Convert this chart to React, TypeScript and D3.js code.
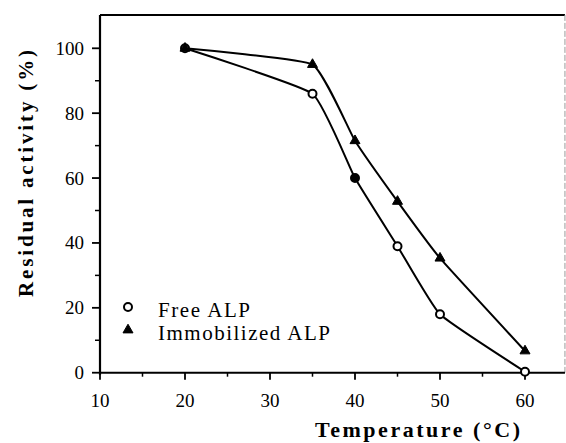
import React from "react";
import * as d3 from "d3";

const temperatures = [20, 35, 40, 45, 50, 60];
const freeALP = [100, 86, 60, 39, 18, 0.3];
const immobilizedALP = [100, 95, 71.5, 52.8, 35.3, 6.7];
const xTicks = [10, 20, 30, 40, 50, 60];
const xMinorTicks = [15, 25, 35, 45, 55];
const yTicks = [0, 20, 40, 60, 80, 100];
const yMinorTicks = [10, 30, 50, 70, 90];
const seriesNames = ["Free ALP", "Immobilized ALP"];

const W = 566;
const H = 443;

export default function App() {
  const x = d3.scaleLinear().domain([10, 60]).range([100, 525]);
  const y = d3.scaleLinear().domain([0, 100]).range([372.7, 48.3]);
  const xMax = 64.7;
  const yMax = 110.3;

  const line = d3
    .line<[number, number]>()
    .x((d) => x(d[0]))
    .y((d) => y(d[1]))
    .curve(d3.curveCardinal.tension(0.62));

  const freePts: [number, number][] = temperatures.map((t, i) => [t, freeALP[i]]);
  const immPts: [number, number][] = temperatures.map((t, i) => [t, immobilizedALP[i]]);

  const tri = (cx: number, cy: number, s: number) => {
    const h = (s * Math.sqrt(3)) / 2;
    return `M${cx},${cy - (2 * h) / 3}L${cx + s / 2},${cy + h / 3}L${cx - s / 2},${cy + h / 3}Z`;
  };

  const ff = "Liberation Serif";

  return (
    <svg width={W} height={H} style={{ position: "absolute", left: 0, top: 0, background: "#fff" }}>
      <rect x={0} y={0} width={W} height={H} fill="#fff" />
      <line x1={x(10)} x2={x(xMax)} y1={y(yMax)} y2={y(yMax)} stroke="#000" strokeWidth={2} />
      <line x1={x(xMax)} x2={x(xMax)} y1={y(yMax)} y2={y(0)} stroke="#999" strokeWidth={1} strokeDasharray="6,2" />
      <line x1={x(10)} x2={x(10)} y1={y(yMax)} y2={y(0) + 2} stroke="#000" strokeWidth={2.2} />
      <line x1={x(10) - 1} x2={x(xMax)} y1={y(0)} y2={y(0)} stroke="#000" strokeWidth={2} />
      {xTicks.map((t) => (
        <g key={"xt" + t}>
          <line x1={x(t)} x2={x(t)} y1={y(0)} y2={y(0) + 7} stroke="#000" strokeWidth={1.8} />
          <text x={x(t)} y={407} textAnchor="middle" fontFamily={ff} fontSize={19}>
            {t}
          </text>
        </g>
      ))}
      {xMinorTicks.map((t) => (
        <line key={"xm" + t} x1={x(t)} x2={x(t)} y1={y(0)} y2={y(0) + 4} stroke="#000" strokeWidth={1.5} />
      ))}
      {yTicks.map((t) => (
        <g key={"yt" + t}>
          <line x1={x(10) - 8} x2={x(10)} y1={y(t)} y2={y(t)} stroke="#000" strokeWidth={1.8} />
          <text x={84} y={y(t) + 6.5} textAnchor="end" fontFamily={ff} fontSize={19}>
            {t}
          </text>
        </g>
      ))}
      {yMinorTicks.map((t) => (
        <line key={"ym" + t} x1={x(10) - 5} x2={x(10)} y1={y(t)} y2={y(t)} stroke="#000" strokeWidth={1.5} />
      ))}
      <path d={line(freePts) ?? ""} fill="none" stroke="#000" strokeWidth={2} />
      <path d={line(immPts) ?? ""} fill="none" stroke="#000" strokeWidth={2} />
      {freePts.map((p, i) => (
        <circle
          key={"fc" + i}
          cx={x(p[0])}
          cy={y(p[1])}
          r={4}
          fill={p[0] === 40 ? "#000" : "#fff"}
          stroke="#000"
          strokeWidth={2}
        />
      ))}
      {immPts.map((p, i) => (
        <path key={"it" + i} d={tri(x(p[0]), y(p[1]), 10)} fill="#000" stroke="#000" strokeWidth={1} />
      ))}
      <circle cx={128} cy={307} r={4} fill="#fff" stroke="#000" strokeWidth={2} />
      <text x={158} y={317} fontFamily={ff} fontSize={21} textLength={92} lengthAdjust="spacing">
        {seriesNames[0]}
      </text>
      <path d={tri(128, 330, 10)} fill="#000" stroke="#000" strokeWidth={1} />
      <text x={158} y={340} fontFamily={ff} fontSize={21} textLength={172} lengthAdjust="spacing">
        {seriesNames[1]}
      </text>
      <text
        x={417.5}
        y={437}
        textAnchor="middle"
        fontFamily={ff}
        fontWeight="bold"
        fontSize={22}
        textLength={205}
        lengthAdjust="spacing"
      >
        Temperature (°C)
      </text>
      <text
        transform="translate(33,173.5) rotate(-90)"
        textAnchor="middle"
        fontFamily={ff}
        fontWeight="bold"
        fontSize={21}
        textLength={247}
        lengthAdjust="spacing"
      >
        Residual activity (%)
      </text>
    </svg>
  );
}
